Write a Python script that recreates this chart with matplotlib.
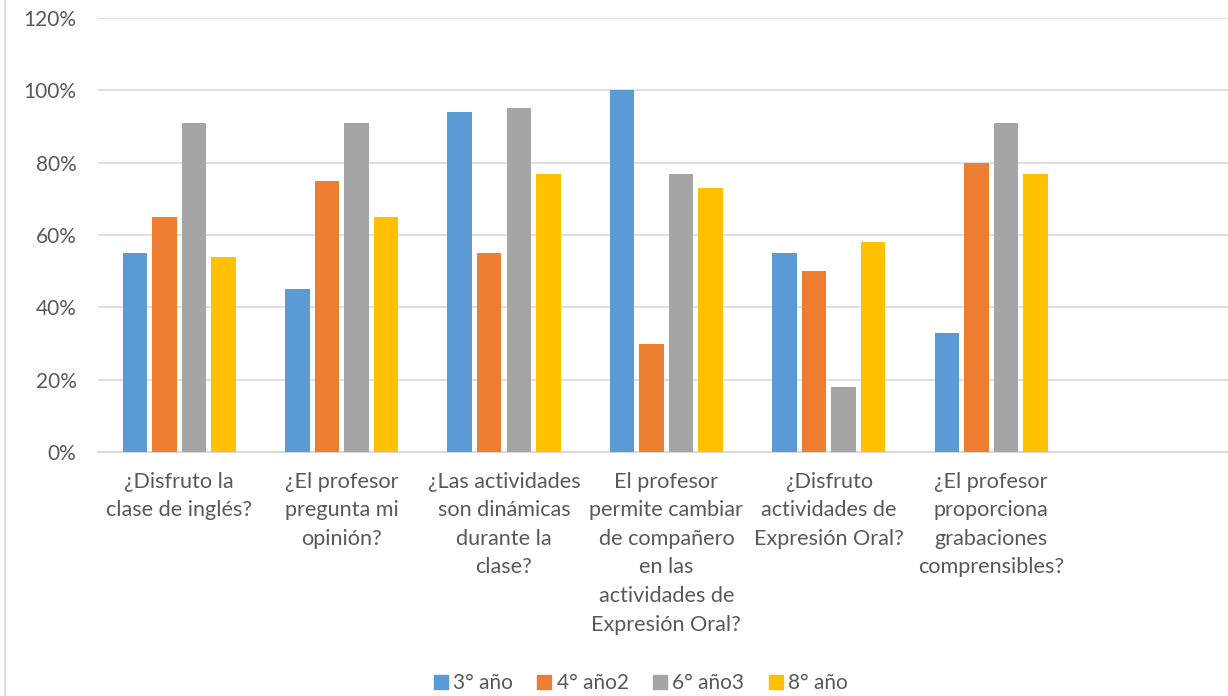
import numpy as np
import matplotlib
matplotlib.use("Agg")
import matplotlib.pyplot as plt
from matplotlib.lines import Line2D

plt.rcParams['font.family'] = ['Lato', 'DejaVu Sans']

categories = ["¿Disfruto la\nclase de inglés?",
              "¿El profesor\npregunta mi\nopinión?",
              "¿Las actividades\nson dinámicas\ndurante la\nclase?",
              "El profesor\npermite cambiar\nde compañero\nen las\nactividades de\nExpresión Oral?",
              "¿Disfruto\nactividades de\nExpresión Oral?",
              "¿El profesor\nproporciona\ngrabaciones\ncomprensibles?"]
series_names = ["3° año", "4° año2", "6° año3", "8° año"]
anio3 = [55, 45, 94, 100, 55, 33]
anio4 = [65, 75, 55, 30, 50, 80]
anio6 = [91, 91, 95, 77, 18, 91]
anio8 = [54, 65, 77, 73, 58, 77]
yticks = [0, 20, 40, 60, 80, 100, 120]

colors = ["#5B9BD5", "#ED7D31", "#A5A5A5", "#FFC000"]
txt = "#595959"
grid = "#D9D9D9"

fig = plt.figure(figsize=(12.28, 6.96), dpi=100)
ax = fig.add_axes([98/1228, 1-452/696, 1-98/1228, (452-18)/696])

x = np.arange(len(categories))
slot = 162.4
step = 29.5/slot
w = 24.5/slot
for i, (vals, c) in enumerate(zip([anio3, anio4, anio6, anio8], colors)):
    ax.bar(x + (i-1.5)*step, vals, width=w, color=c, label=series_names[i], zorder=3)

ax.set_xlim(-0.5, -0.5 + (1228-98)/slot)
ax.set_ylim(0, 120)
ax.set_yticks(yticks)
ax.set_yticklabels([f"{v}%" for v in yticks], fontsize=15, color=txt)
ax.yaxis.grid(True, color=grid, linewidth=1.2, zorder=0)
ax.tick_params(axis='y', length=0, pad=15.5)
ax.set_xticks([])
for s in ["top", "right", "left"]:
    ax.spines[s].set_visible(False)
ax.spines["bottom"].set_color(grid)
ax.spines["bottom"].set_linewidth(1.5)

for xi, lab in zip(x, categories):
    ax.text(xi, -5.4, lab, ha='center', va='top', fontsize=15.6, color=txt,
            linespacing=1.54, transform=ax.transData, clip_on=False)

# chart area border on the left
fig.add_artist(Line2D([5/1228, 5/1228], [0, 1], color=grid, linewidth=1.2))

handles = [Line2D([], [], marker='s', linestyle='none', markersize=10,
                  markerfacecolor=c, markeredgecolor=c) for c in colors]
fig.legend(handles, series_names, loc='center', bbox_to_anchor=(639/1228, 1-683/696),
           ncol=4, frameon=False, fontsize=15, labelcolor=txt,
           handletextpad=0.1, columnspacing=1.0, handlelength=1.0)

fig.savefig("out.png", dpi=100)
